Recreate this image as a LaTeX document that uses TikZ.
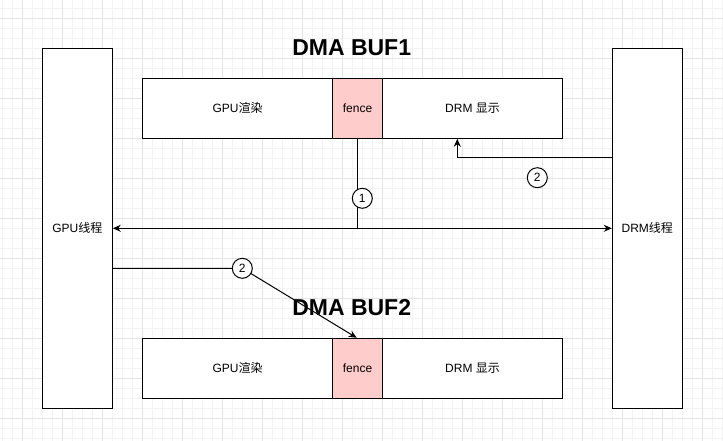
\documentclass[tikz,border=0pt]{standalone}
\usepackage{fontspec}
\setmainfont{Liberation Sans}
\newfontfamily\cjk{Noto Sans CJK SC}
\usetikzlibrary{arrows.meta}
\definecolor{fencered}{HTML}{FFCCCC}
\definecolor{gridmin}{HTML}{F3F3F3}
\definecolor{gridmaj}{HTML}{E4E4E4}
\tikzset{
  box/.style={draw=black, line width=1pt, fill=white, inner sep=0pt, font=\fontsize{12}{14}\selectfont},
  cell/.style={box, minimum height=60pt},
  thread/.style={box, minimum width=70pt, minimum height=360pt},
  title/.style={font=\fontsize{23}{26}\selectfont\bfseries, inner sep=0pt},
  conn/.style={draw=black, line width=1pt},
  arr/.style={conn, -{Stealth[length=8pt,width=7pt]}},
  circ/.style={circle, draw=black, line width=1pt, fill=white, minimum size=20pt, inner sep=0pt, font=\fontsize{12}{14}\selectfont}
}
\begin{document}
\begin{tikzpicture}[x=1pt,y=-1pt]
\useasboundingbox (0,0) rectangle (723,441);
\fill[white] (0,0) rectangle (723,441);
% grid
\foreach \i in {0,...,72} {\draw[gridmin, line width=0.8pt] (2.7+10*\i,0) -- (2.7+10*\i,441);}
\foreach \j in {0,...,43} {\draw[gridmin, line width=0.8pt] (0,8.3+10*\j) -- (723,8.3+10*\j);}
\foreach \i in {0,...,18} {\draw[gridmaj, line width=1pt] (22.7+40*\i,0) -- (22.7+40*\i,441);}
\foreach \j in {0,...,10} {\draw[gridmaj, line width=1pt] (0,18.3+40*\j) -- (723,18.3+40*\j);}
% threads
\node[thread] (gpu) at (77.3,228.3) {GPU{\cjk 线程}};
\node[thread] (drm) at (647.3,228.3) {DRM{\cjk 线程}};
% buffer 1
\node[cell, minimum width=190.4pt] (r1) at (237.5,108.3) {GPU{\cjk 渲染}};
\node[cell, fill=fencered, minimum width=49.6pt] (f1) at (357.5,108.3) {fence};
\node[cell, minimum width=180.4pt] (d1) at (472.5,108.3) {DRM {\cjk 显示}};
% buffer 2
\node[cell, minimum width=190.4pt] (r2) at (237.5,368.3) {GPU{\cjk 渲染}};
\node[cell, fill=fencered, minimum width=49.6pt] (f2) at (357.5,368.3) {fence};
\node[cell, minimum width=180.4pt] (d2) at (472.5,368.3) {DRM {\cjk 显示}};
% connectors
\coordinate (j) at (357.3,228.3);
\draw[conn] (f1.south -| j) -- (j);
\draw[arr] (j) -- (gpu.east |- j);
\draw[arr] (j) -- (drm.west |- j);
\coordinate (e2) at (457.3,157.3);
\draw[arr] (drm.west |- e2) -- (e2) -- (e2 |- d1.south);
\coordinate (w) at (242.3,268.3);
\draw[arr] (gpu.east |- w) -- (w) -- (f2.north -| 356.7,0);
% labels
\node[circ] (c1) at (362.3,198.3) {1};
\node[circ] (c2) at (537.3,177.7) {2};
\node[circ] (c3) at (w) {2};
\node[title] (t1) at (351.7,48) {DMA BUF1};
\node[title] (t2) at (351.7,308) {DMA BUF2};
\end{tikzpicture}
\end{document}
